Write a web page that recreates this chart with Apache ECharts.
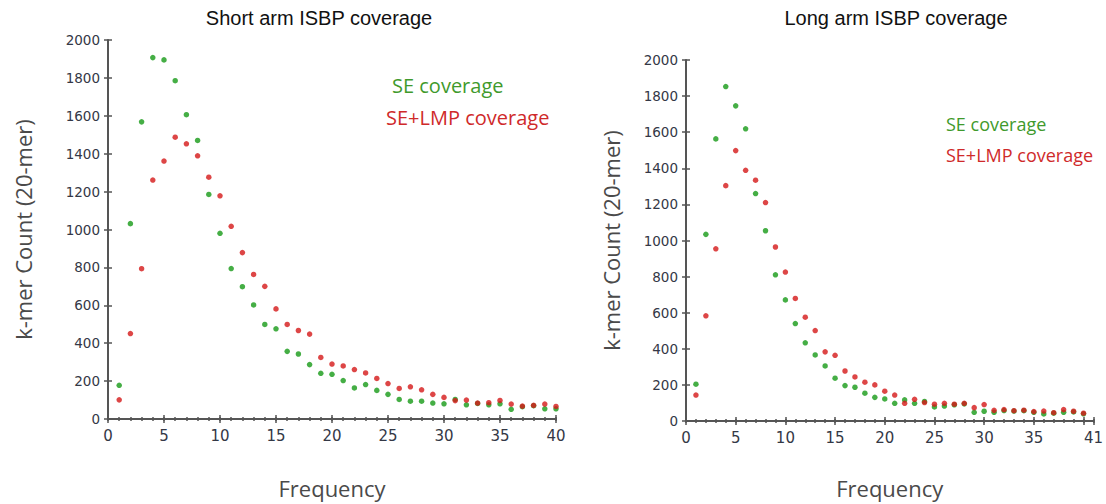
<!DOCTYPE html>
<html>
<head>
<meta charset="utf-8">
<script src="https://cdn.jsdelivr.net/npm/echarts@6/dist/echarts.min.js"></script>
<style>
  html, body { margin: 0; padding: 0; background: #fff; }
  #chart { width: 1106px; height: 504px; }
</style>
</head>
<body>
<div id="chart"></div>
<script>
// k-mer frequency (x) for both panels
const frequency = [1,2,3,4,5,6,7,8,9,10,11,12,13,14,15,16,17,18,19,20,
                   21,22,23,24,25,26,27,28,29,30,31,32,33,34,35,36,37,38,39,40];

// Short arm: k-mer counts per frequency
const seShort  = [178,1031,1568,1907,1895,1785,1606,1470,1185,980,
                  794,698,602,499,476,357,343,287,241,236,
                  203,164,182,151,130,103,94,94,84,80,
                  103,75,82,75,80,51,65,70,54,54];
const lmpShort = [101,451,793,1261,1361,1487,1452,1389,1276,1178,
                  1017,878,763,700,581,499,467,448,325,290,
                  280,261,243,214,187,161,170,154,130,114,
                  97,100,84,86,98,79,68,72,79,66];

// Long arm: k-mer counts per frequency
const seLong   = [204,1034,1563,1853,1746,1619,1260,1054,810,671,
                  540,433,366,305,237,196,187,154,131,122,
                  98,117,98,108,78,83,90,95,48,54,
                  48,58,55,57,48,39,43,48,50,40];
const lmpLong  = [144,583,954,1304,1498,1389,1334,1210,964,825,
                  679,575,501,383,364,277,244,215,200,165,
                  144,98,120,102,93,98,93,98,74,91,
                  59,63,57,60,52,55,46,63,54,43];

// Tick labels
const shortXTicks = [0,5,10,15,20,25,30,35,40];
const longXTicks  = [0,5,10,15,20,25,30,35,41];
const yTicks      = [0,200,400,600,800,1000,1200,1400,1600,1800,2000];

const titles      = ['Short arm ISBP coverage', 'Long arm ISBP coverage'];
const seriesNames = ['SE coverage', 'SE+LMP coverage'];

const yTickFont = { fontFamily: 'DejaVu Sans', fontSize: 13.5, color: '#343846' };
const xTickFont = { fontFamily: 'DejaVu Sans', fontSize: 15, color: '#343846' };
const nameFont = { fontFamily: 'Open Sans', fontSize: 22, color: '#4a4a4a' };
const axisColor = '#555555';
const green = '#169a16';
const red = '#d41818';

// One visible x axis plus tick-only companions (inside major ticks, integer minor ticks)
function xAxesFor(grid, max, ticks, nameGap) {
  const base = {
    gridIndex: grid, type: 'value', position: 'bottom', min: 0, max: max,
    splitLine: { show: false }, axisLine: { show: false, onZero: false }
  };
  const tickOnly = (interval, inside, length) => Object.assign({}, base, {
    interval: interval, axisLabel: { show: false },
    axisTick: { show: true, inside: inside, length: length, lineStyle: { color: axisColor, width: 1.5 } }
  });
  return [
    Object.assign({}, base, {
      interval: 5,
      name: 'Frequency', nameLocation: 'middle', nameGap: nameGap, nameTextStyle: nameFont,
      axisLine: { show: true, onZero: false, lineStyle: { color: axisColor, width: 2 } },
      axisTick: { show: true, length: 4, lineStyle: { color: axisColor, width: 1.5 } },
      axisLabel: Object.assign({ margin: 9, formatter: v => ticks.includes(v) ? String(v) : '' }, xTickFont)
    }),
    tickOnly(5, true, 4),
    tickOnly(1, false, 2),
    tickOnly(1, true, 2)
  ];
}

function yAxesFor(grid, nameGap) {
  const base = {
    gridIndex: grid, type: 'value', position: 'left', min: 0, max: 2000, interval: 200,
    splitLine: { show: false }, axisLine: { show: false, onZero: false }
  };
  return [
    Object.assign({}, base, {
      name: 'k-mer Count (20-mer)', nameLocation: 'middle', nameGap: nameGap, nameTextStyle: nameFont,
      axisLine: { show: true, onZero: false, lineStyle: { color: axisColor, width: 2 } },
      axisTick: { show: true, length: 4, lineStyle: { color: axisColor, width: 1.5 } },
      axisLabel: Object.assign({ margin: 8, formatter: v => yTicks.includes(v) ? String(v) : '' }, yTickFont)
    }),
    Object.assign({}, base, {
      axisLabel: { show: false },
      axisTick: { show: true, inside: true, length: 4, lineStyle: { color: axisColor, width: 1.5 } }
    })
  ];
}

function points(values) {
  return frequency.map((f, i) => [f, values[i]]);
}

function scatter(name, values, color, xIdx, yIdx) {
  return {
    name: name, type: 'scatter', xAxisIndex: xIdx, yAxisIndex: yIdx,
    symbol: 'circle', symbolSize: 5.5,
    itemStyle: { color: color },
    data: points(values), silent: true
  };
}

function label(text, x, y, size, color, family, align) {
  return {
    type: 'text', x: x, y: y, silent: true,
    style: { text: text, fill: color, fontFamily: family, fontSize: size,
             textAlign: align || 'left', textVerticalAlign: 'middle' }
  };
}

const chart = echarts.init(document.getElementById('chart'), null, { renderer: 'svg' });

chart.setOption({
  animation: false,
  backgroundColor: '#ffffff',
  grid: [
    { left: 108, top: 40, width: 448, height: 381 },
    { left: 686, top: 60, width: 408.4, height: 361 }
  ],
  xAxis: xAxesFor(0, 40, shortXTicks, 58).concat(xAxesFor(1, 41, longXTicks, 56)),
  yAxis: yAxesFor(0, 74).concat(yAxesFor(1, 64)),
  series: [
    scatter(seriesNames[0], seShort, green, 0, 0),
    scatter(seriesNames[1], lmpShort, red, 0, 0),
    scatter(seriesNames[0], seLong, green, 4, 2),
    scatter(seriesNames[1], lmpLong, red, 4, 2)
  ],
  graphic: [
    label(titles[0], 319, 18, 20, '#111', 'Liberation Sans', 'center'),
    label(titles[1], 896, 18, 20, '#111', 'Liberation Sans', 'center'),
    label(seriesNames[0], 392, 85, 20, '#3f9a2c', 'Open Sans'),
    label(seriesNames[1], 386, 117, 20, '#cf2a2a', 'Open Sans'),
    label(seriesNames[0], 946, 124, 18, '#3f9a2c', 'Open Sans'),
    label(seriesNames[1], 946, 155, 18, '#cf2a2a', 'Open Sans')
  ]
});
</script>
</body>
</html>
